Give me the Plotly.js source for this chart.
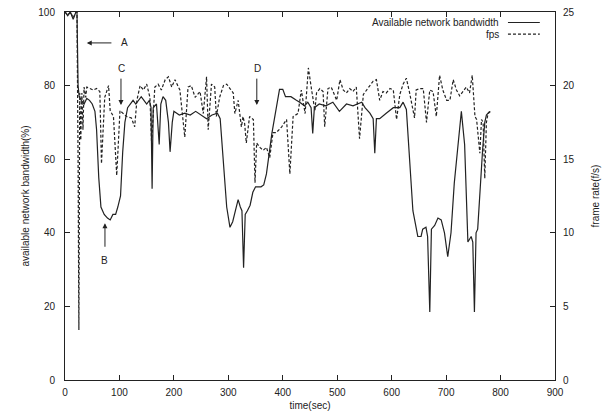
<!DOCTYPE html>
<html><head><meta charset="utf-8">
<script src="https://cdn.plot.ly/plotly-3.0.1.min.js"></script>
<style>html,body{margin:0;padding:0;background:#fff}#c{width:608px;height:418px}</style>
</head><body><div id="c"></div>
<script>
// Available network bandwidth (%)
const bwTime = [0,5,10,15,20,22,24,26,30,35,40,45,50,55,58,62,66,72,78,83,88,93,97,102,106,110,115,120,125,130,135,140,145,150,155,158,160,162,168,173,176,180,185,190,193,197,200,210,220,230,240,250,260,270,280,285,288,292,297,303,308,313,318,322,325,328,331,335,340,345,350,360,365,370,380,394,400,405,415,425,431,440,446,452,455,458,467,479,492,504,517,529,545,551,560,566,569,572,578,590,603,615,621,627,633,639,648,654,657,663,666,670,673,679,685,691,697,703,709,715,721,728,734,737,740,746,749,752,755,758,761,767,771,774,780];
const bwValue = [100,99,100,98,100,100,80,77,76,75,76.5,76,75,73,68,55,47,45,44,43.5,45,45,47,50,62,70,74,75,76,75,76,77,76,75,76,74,52,74,75,64,75,77,76,70,62,70,73,72,72.5,72,73,72,71,72,72.5,71,65,55,47,41.5,43,46,49,47,46,30.5,45,46,47.5,51,52.5,52.5,53,56,67,79,79,77,77,76,75.5,74.5,75.5,74,67,74,75,74.5,75.5,73,75,74.5,75.5,74,72.5,71,61.6,71,71,72.5,74,74,75.5,73.5,60,46,39,39,41,41.5,39,18.5,41,42,44,43.5,40,33.5,40,53.5,62.5,73,64,51,37.5,39,37.5,18.5,40,41,49,62.5,70,72,73];

// Frame rate (f/s)
const fpsTime = [0,5,10,15,20,22,24,25.5,27,29,31,33,35,38,40,46,52,58,64,67,73,80,83,89,95,101,107,113,122,128,132,138,144,150,156,159,165,171,177,184,190,196,202,211,220,226,232,239,248,254,260,263,269,275,278,284,291,297,303,309,312,318,324,327,330,333,339,346,349,352,358,364,370,376,382,388,398,407,413,419,428,434,441,444,447,453,459,462,468,474,477,483,489,499,505,511,517,523,529,535,541,548,554,560,566,572,578,584,590,597,603,609,615,621,627,633,642,645,652,658,664,670,676,682,688,694,701,707,713,719,725,737,743,748,753,756,759,762,765,768,771,774,777,783];
const fpsValue = [25,24.8,25,24.6,25,25,15,3.4,19.5,16.3,19.5,17,19.9,19.2,19.9,19.8,19.7,19.8,19.6,14.7,19.2,20,18.3,17.9,13.9,18.3,18.1,17.9,17.8,17.2,19,20,19.7,20.1,19.2,16.1,19.9,20.1,19.7,20.4,20.6,19.9,20.4,19.7,16.5,19.9,20,19.2,19.6,18.1,20.6,17,20.1,19.9,17.9,19.2,20,20.1,19.8,19.5,18.1,19,17.2,17.9,17.4,16.1,17.9,17.7,13.4,16.1,15.8,15.6,15.8,15.1,16.8,16.8,17.2,17.7,14,17.9,18.1,19.7,18.1,19.8,21.2,19.7,18.3,19.5,19.8,19.6,17.2,19.8,19.9,19,20.4,19.7,19.5,19.8,19.6,19.9,16.4,19.4,19.7,20,20.3,20.4,19,19.6,19.5,19.8,19.7,17.7,19.4,20.1,20.5,19.5,17.8,19.7,19.8,19.8,17.5,19.7,19.6,17.9,20.7,19.7,19,19,20.4,19.7,19.3,19.9,19.5,20.7,17.9,17.7,16.3,15.4,17.7,17.5,13.7,17.5,18.1,18.3];

const seriesNames = ['Available network bandwidth', 'fps'];
const xTitle = 'time(sec)';
const yTitle = 'available network bandwidth(%)';
const y2Title = 'frame rate(f/s)';
const markerLabels = ['A', 'B', 'C', 'D'];

const ink = '#222';
const font = {family: 'Liberation Sans, Arial, sans-serif', size: 10, color: ink};

const traces = [
  {x: bwTime, y: bwValue, type: 'scatter', mode: 'lines', name: seriesNames[0],
   line: {color: ink, width: 1.2}, yaxis: 'y'},
  {x: fpsTime, y: fpsValue, type: 'scatter', mode: 'lines', name: seriesNames[1],
   line: {color: ink, width: 1.2, dash: '3px,2px'}, yaxis: 'y2'}
];

const axisCommon = {showgrid: false, zeroline: false, showline: true, linecolor: ink, linewidth: 1,
  ticks: 'inside', ticklen: 5, tickcolor: ink, tickfont: font};

function arrow(x, y, ax, ay) {
  return {x: x, y: y, ax: ax, ay: ay, axref: 'x', ayref: 'y', xref: 'x', yref: 'y', text: '',
    showarrow: true, arrowhead: 2, arrowsize: 1, arrowwidth: 1, arrowcolor: ink};
}
function label(x, y, t) {
  return {x: x, y: y, xref: 'x', yref: 'y', text: t, showarrow: false, font: font};
}

const annotations = [
  arrow(40, 91.6, 88, 91.6), label(110, 91.6, markerLabels[0]),
  arrow(73.4, 42.6, 73.4, 35.8), label(73.4, 32.5, markerLabels[1]),
  arrow(102.8, 74.7, 102.8, 82.3), label(103.5, 84.6, markerLabels[2]),
  arrow(352.3, 74.7, 352.3, 82.3), label(353.5, 84.6, markerLabels[3]),
  {x: 0.8898, y: 0.9715, xref: 'paper', yref: 'paper', xanchor: 'right', yanchor: 'middle', text: seriesNames[0], showarrow: false, font: font},
  {x: 0.8898, y: 0.940, xref: 'paper', yref: 'paper', xanchor: 'right', yanchor: 'middle', text: seriesNames[1], showarrow: false, font: font}
];

const shapes = [
  {type: 'line', xref: 'paper', yref: 'paper', x0: 0.904, x1: 0.969, y0: 0.9715, y1: 0.9715, line: {color: ink, width: 1.2}},
  {type: 'line', xref: 'paper', yref: 'paper', x0: 0.904, x1: 0.969, y0: 0.940, y1: 0.940, line: {color: ink, width: 1.2, dash: '3px,2px'}}
];

const layout = {
  width: 608, height: 418,
  margin: {l: 65, r: 53, t: 12, b: 38, pad: 0},
  paper_bgcolor: '#fff', plot_bgcolor: '#fff',
  showlegend: false,
  font: font,
  xaxis: Object.assign({}, axisCommon, {range: [0, 900], dtick: 100, mirror: 'ticks', ticklabelstandoff: 3,
    title: {text: xTitle, font: font, standoff: 4}}),
  yaxis: Object.assign({}, axisCommon, {range: [0, 100], dtick: 20, ticklabelstandoff: 7,
    title: {text: yTitle, font: font, standoff: 6}}),
  yaxis2: Object.assign({}, axisCommon, {range: [0, 25], dtick: 5, overlaying: 'y', side: 'right', ticklabelstandoff: 5,
    title: {text: y2Title, font: font, standoff: 18}}),
  annotations: annotations,
  shapes: shapes
};

Plotly.newPlot('c', traces, layout, {staticPlot: true, displayModeBar: false});
</script>
</body></html>
